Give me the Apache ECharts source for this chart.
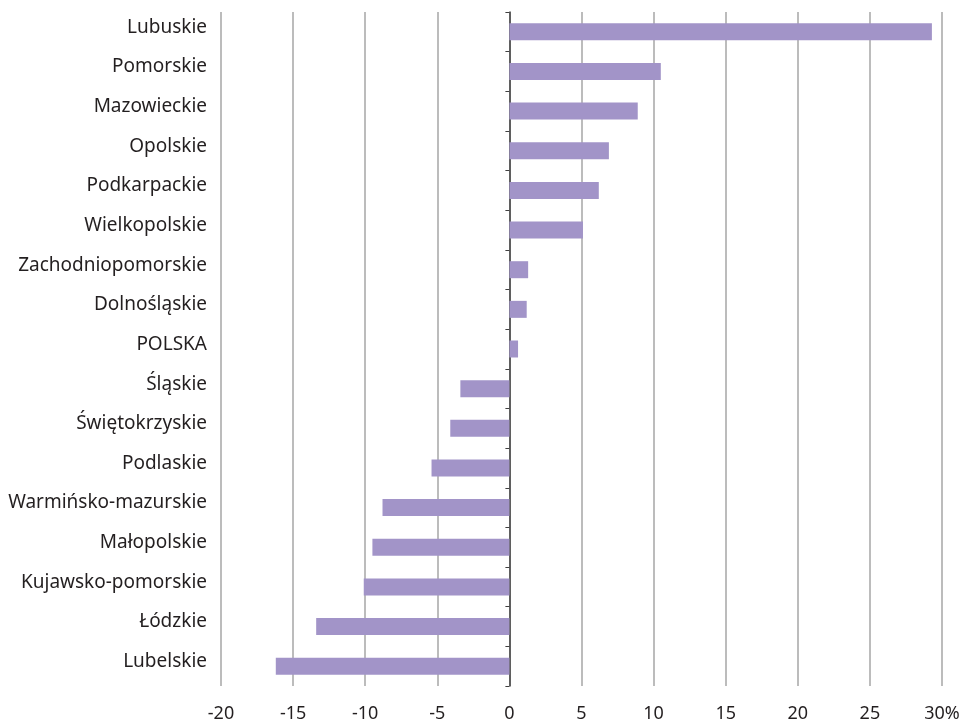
<!DOCTYPE html>
<html>
<head>
<meta charset="utf-8">
<script src="https://cdn.jsdelivr.net/npm/echarts@6/dist/echarts.min.js"></script>
<style>
  html, body { margin: 0; padding: 0; background: #fff; }
  #main { width: 963px; height: 723px; }
</style>
</head>
<body>
<div id="main"></div>
<script>
// regions, top to bottom
const regions = [
  "Lubuskie", "Pomorskie", "Mazowieckie", "Opolskie", "Podkarpackie",
  "Wielkopolskie", "Zachodniopomorskie", "Dolnośląskie", "POLSKA", "Śląskie",
  "Świętokrzyskie", "Podlaskie", "Warmińsko-mazurskie", "Małopolskie",
  "Kujawsko-pomorskie", "Łódzkie", "Lubelskie"
];
// change, %
const values = [
  29.3, 10.5, 8.9, 6.9, 6.2,
  5.1, 1.3, 1.2, 0.6, -3.4,
  -4.1, -5.4, -8.8, -9.5,
  -10.1, -13.4, -16.2
];
const xMin = -20;
const xMax = 30;
const xStep = 5;

const font = "Noto Sans";
var myChart = echarts.init(document.getElementById("main"));
const option = {
  animation: false,
  grid: { left: 221, right: 21, top: 12, bottom: 32, containLabel: false },
  xAxis: {
    type: "value",
    min: xMin,
    max: xMax,
    interval: xStep,
    axisLine: { show: false },
    axisTick: { show: false },
    splitLine: { show: true, lineStyle: { color: "#a6a6a6", width: 1.5 } },
    axisLabel: {
      margin: 19,
      fontSize: 18,
      fontFamily: font,
      color: "#231f20",
      formatter: (v) => (v === xMax ? v + "%" : String(v)),
    },
  },
  yAxis: [
    {
      type: "category",
      data: regions,
      inverse: true,
      position: "left",
      axisLine: { show: false, onZero: false },
      axisTick: { show: false },
      axisLabel: {
        margin: 14,
        fontSize: 19,
        fontFamily: font,
        color: "#231f20",
        // labels sit a little above the bar centres
        verticalAlign: "bottom",
        lineHeight: 9,
      },
    },
    {
      // the line at zero with its ticks
      type: "category",
      data: regions,
      inverse: true,
      position: "left",
      axisLine: { show: true, onZero: true, lineStyle: { color: "#404040", width: 1.5 } },
      axisTick: { show: true, length: 4, lineStyle: { color: "#404040" } },
      axisLabel: { show: false },
    },
  ],
  series: [
    {
      type: "bar",
      data: values,
      barWidth: 17,
      itemStyle: { color: "#a294c8" },
      z: 3,
    },
  ],
};
myChart.setOption(option);
</script>
</body>
</html>
